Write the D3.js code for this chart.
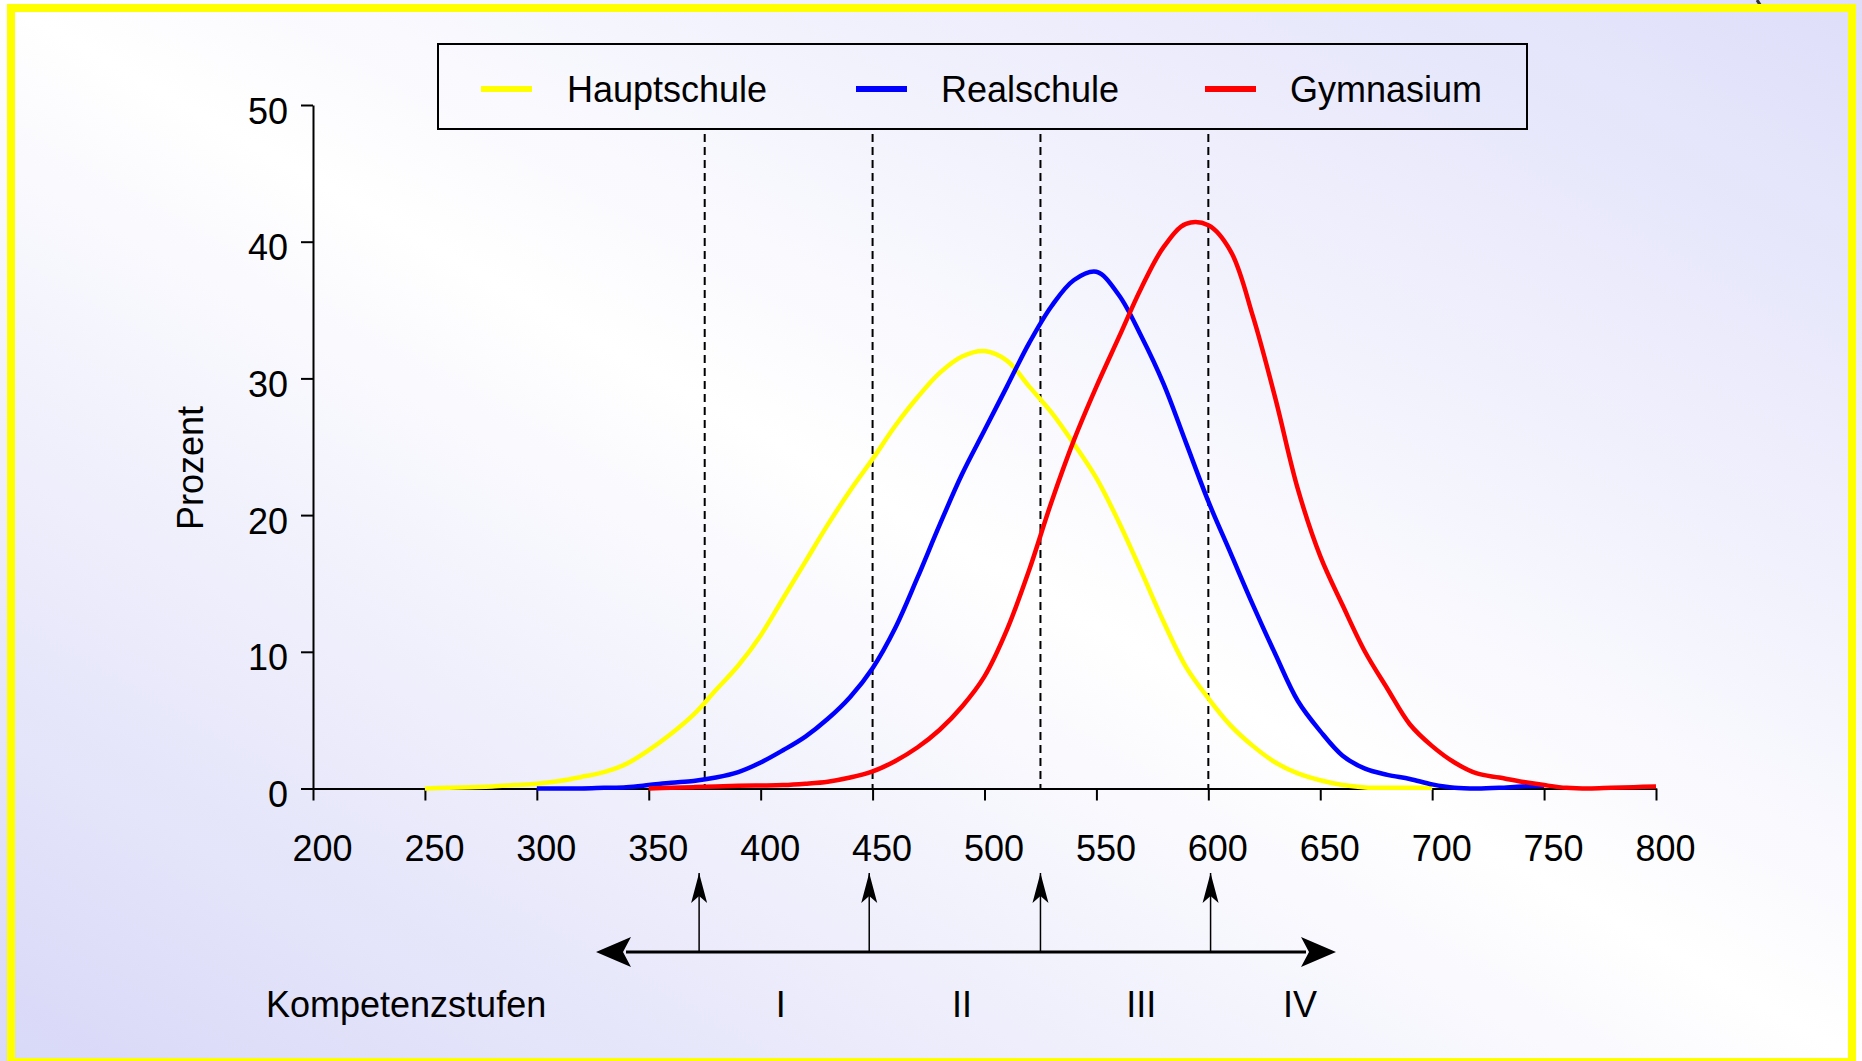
<!DOCTYPE html>
<html>
<head>
<meta charset="utf-8">
<script src="https://cdn.jsdelivr.net/npm/d3@7"></script>
<style>
  html, body { margin: 0; padding: 0; overflow: hidden; }
  svg { display: block; }
</style>
</head>
<body>
<div id="chart"></div>
<script>
// Leistungspunkte (x) und Prozentanteile je Schulform
var skala = [250, 260, 270, 280, 290, 300, 310, 320, 330, 340, 350, 360, 370, 380, 390,
  400, 410, 420, 430, 440, 450, 460, 470, 480, 490, 500, 510, 520, 530, 540, 550,
  560, 570, 580, 590, 600, 610, 620, 630, 640, 650, 660, 670, 680, 690, 700,
  710, 720, 730, 740, 750, 760, 770, 780, 790, 800];

var hauptschule = [0.0, 0.05, 0.1, 0.15, 0.25, 0.35, 0.55, 0.85, 1.2, 1.8, 2.8, 4.0, 5.4, 7.2, 9.0,
  11.2, 13.9, 16.6, 19.3, 21.8, 24.1, 26.5, 28.6, 30.4, 31.6, 32.0, 31.3, 29.4, 27.5, 25.2, 22.7,
  19.5, 15.9, 12.2, 8.9, 6.6, 4.6, 3.1, 1.9, 1.1, 0.6, 0.25, 0.08, 0.05, 0.05, 0.05,
  null, null, null, null, null, null, null, null, null, null];

var realschule = [null, null, null, null, null, 0.0, 0.0, 0.0, 0.05, 0.1, 0.25, 0.42, 0.55, 0.8, 1.2,
  1.9, 2.8, 3.8, 5.1, 6.7, 8.8, 11.7, 15.4, 19.3, 23.0, 26.2, 29.4, 32.6, 35.3, 37.2, 37.8,
  36.1, 33.1, 29.6, 25.3, 21.0, 17.2, 13.4, 9.8, 6.4, 4.2, 2.4, 1.45, 1.0, 0.7, 0.3,
  0.05, 0.0, 0.05, 0.15, 0.2, null, null, null, null, null];

var gymnasium = [null, null, null, null, null, null, null, null, null, null, 0.0, 0.05, 0.1, 0.15, 0.2,
  0.22, 0.25, 0.35, 0.5, 0.8, 1.25, 2.0, 3.0, 4.3, 6.0, 8.2, 11.6, 16.0, 21.0, 25.5, 29.4,
  33.0, 36.6, 39.6, 41.3, 41.2, 39.3, 34.5, 28.5, 21.9, 17.0, 13.4, 10.0, 7.3, 4.7, 3.1,
  1.9, 1.1, 0.8, 0.5, 0.25, 0.05, 0.0, 0.05, 0.1, 0.15];

var schulformen = ["Hauptschule", "Realschule", "Gymnasium"];
var farben = ["#ffff00", "#0000ff", "#ff0000"];

var xTicks = [200, 250, 300, 350, 400, 450, 500, 550, 600, 650, 700, 750, 800];
var yTicks = [0, 10, 20, 30, 40, 50];

// Grenzen der Kompetenzstufen
var grenzen = [375, 450, 525, 600];
var pfeile = [372.5, 448.5, 525, 601];
var stufen = ["I", "II", "III", "IV"];
var stufenPos = [409, 490, 570, 641];

var width = 1862,
  height = 1061;

var font = "'Liberation Sans', Arial, sans-serif";

var x = d3.scaleLinear().domain([200, 800]).range([313, 1656]);
var y = d3.scaleLinear().domain([0, 50]).range([788.5, 105]);

var svg = d3.select("#chart")
  .append("svg")
  .attr("width", width)
  .attr("height", height)
  .style("font-family", font);

var defs = svg.append("defs");
var grad = defs.append("linearGradient")
  .attr("id", "bg")
  .attr("x1", 0).attr("y1", 1)
  .attr("x2", 1).attr("y2", 0);
grad.append("stop").attr("offset", 0).attr("stop-color", "#d8d8f8");
grad.append("stop").attr("offset", 0.5).attr("stop-color", "#ffffff");
grad.append("stop").attr("offset", 1).attr("stop-color", "#dedefa");

defs.append("marker")
  .attr("id", "spitze")
  .attr("viewBox", "-38 -17 42 34")
  .attr("refX", 0)
  .attr("refY", 0)
  .attr("markerUnits", "userSpaceOnUse")
  .attr("markerWidth", 42)
  .attr("markerHeight", 34)
  .attr("orient", "auto-start-reverse")
  .append("path")
  .attr("fill", "#000")
  .attr("d", "M0,0L-35,-15L-27,0L-35,15Z");

defs.append("marker")
  .attr("id", "spitzeKlein")
  .attr("viewBox", "-32 -10 34 20")
  .attr("refX", 0)
  .attr("refY", 0)
  .attr("markerUnits", "userSpaceOnUse")
  .attr("markerWidth", 34)
  .attr("markerHeight", 20)
  .attr("orient", "auto")
  .append("path")
  .attr("fill", "#000")
  .attr("d", "M0,0L-30,-8L-23,0L-30,8Z");

svg.append("rect")
  .attr("width", width)
  .attr("height", height)
  .attr("fill", "url(#bg)");

// kleiner Rest oben rechts
svg.append("path")
  .attr("d", "M1757,0Q1760,4 1762,9")
  .attr("fill", "none")
  .attr("stroke", "#333")
  .attr("stroke-width", 3);

svg.append("rect")
  .attr("x", 11)
  .attr("y", 8)
  .attr("width", 1841)
  .attr("height", 1054)
  .attr("fill", "none")
  .attr("stroke", "#ffff00")
  .attr("stroke-width", 8);

// gestrichelte Grenzlinien
svg.append("g")
  .selectAll("line")
  .data(grenzen)
  .enter()
  .append("line")
  .attr("x1", d => x(d))
  .attr("x2", d => x(d))
  .attr("y1", 134)
  .attr("y2", y(0))
  .attr("stroke", "#000")
  .attr("stroke-width", 2)
  .attr("stroke-dasharray", "8,5");

// Achsen
var xAxis = svg.append("g")
  .attr("transform", `translate(0,${y(0)})`)
  .call(d3.axisBottom(x).tickValues(xTicks).tickSize(12).tickSizeOuter(0).tickPadding(35));

var yAxis = svg.append("g")
  .attr("transform", `translate(${x(200)},0)`)
  .call(d3.axisLeft(y).tickValues(yTicks).tickSize(12).tickSizeOuter(0).tickPadding(13));

[xAxis, yAxis].forEach(function (g) {
  g.selectAll("path, line").attr("stroke", "#000").attr("stroke-width", 2);
  g.selectAll("text")
    .attr("fill", "#000")
    .style("font-size", "36px")
    .style("font-family", font);
});
xAxis.selectAll("text").attr("dx", 9);
yAxis.selectAll("text").attr("dy", "0.5em");

svg.append("text")
  .attr("transform", "translate(203,468) rotate(-90)")
  .attr("text-anchor", "middle")
  .style("font-size", "36px")
  .text("Prozent");

// Kurven
var reihen = [hauptschule, realschule, gymnasium];
var line = d3.line()
  .defined(d => d[1] != null)
  .x(d => x(d[0]))
  .y(d => y(d[1]))
  .curve(d3.curveCatmullRom.alpha(0.5));

svg.append("g")
  .attr("fill", "none")
  .attr("stroke-width", 4.5)
  .attr("stroke-linejoin", "round")
  .selectAll("path")
  .data(reihen)
  .enter()
  .append("path")
  .attr("stroke", (d, i) => farben[i])
  .attr("d", d => line(skala.map((s, i) => [s, d[i]])));

// Legende
var legende = svg.append("g");
legende.append("rect")
  .attr("x", 438)
  .attr("y", 44)
  .attr("width", 1089)
  .attr("height", 85)
  .attr("fill", "none")
  .attr("stroke", "#000")
  .attr("stroke-width", 2);

var legX = [481, 856, 1205];
var eintrag = legende.selectAll("g")
  .data(schulformen)
  .enter()
  .append("g")
  .attr("transform", (d, i) => `translate(${legX[i]},89)`);
eintrag.append("line")
  .attr("x1", 0)
  .attr("x2", 51)
  .attr("stroke", (d, i) => farben[i])
  .attr("stroke-width", 6);
eintrag.append("text")
  .attr("x", (d, i) => i == 0 ? 86 : 85)
  .attr("y", 13)
  .style("font-size", "36px")
  .text(d => d);

// Kompetenzstufen-Pfeile
var pfeilY = 952;
svg.append("line")
  .attr("x1", 626)
  .attr("x2", 1306)
  .attr("y1", pfeilY)
  .attr("y2", pfeilY)
  .attr("stroke", "#000")
  .attr("stroke-width", 3);
svg.append("line")
  .attr("x1", 596)
  .attr("x2", 1336)
  .attr("y1", pfeilY)
  .attr("y2", pfeilY)
  .attr("stroke", "none")
  .attr("marker-start", "url(#spitze)")
  .attr("marker-end", "url(#spitze)");

svg.append("g")
  .selectAll("line")
  .data(pfeile)
  .enter()
  .append("line")
  .attr("x1", d => x(d))
  .attr("x2", d => x(d))
  .attr("y1", pfeilY)
  .attr("y2", 873)
  .attr("stroke", "#000")
  .attr("stroke-width", 1.5)
  .attr("marker-end", "url(#spitzeKlein)");

svg.append("text")
  .attr("x", 266)
  .attr("y", 1017)
  .style("font-size", "36px")
  .text("Kompetenzstufen");

svg.append("g")
  .selectAll("text")
  .data(stufen)
  .enter()
  .append("text")
  .attr("x", (d, i) => x(stufenPos[i]))
  .attr("y", 1017)
  .attr("text-anchor", "middle")
  .style("font-size", "36px")
  .text(d => d);
</script>
</body>
</html>
